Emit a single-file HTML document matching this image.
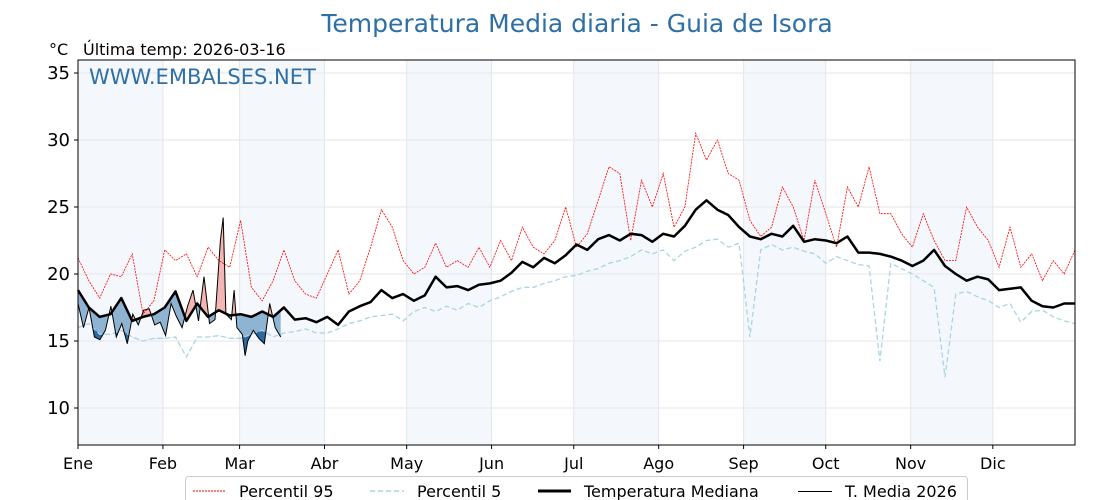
<!DOCTYPE html>
<html><head><meta charset="utf-8">
<style>
body{margin:0;background:#fff;}
svg{display:block;font-family:"DejaVu Sans","Liberation Sans",sans-serif;}
</style></head>
<body>
<svg id="chart" width="1120" height="500" viewBox="0 0 1120 500">
<text x="577" y="32" text-anchor="middle" font-size="25" fill="#2e6fa6">Temperatura Media diaria - Guia de Isora</text>
<text x="49" y="55" font-size="16" fill="#000">°C</text>
<text x="83" y="55" font-size="16" fill="#000">Última temp: 2026-03-16</text>
<g id="bands"></g>
<g id="grid"></g>
<g id="fills"></g>
<g id="lines"></g>
<rect x="78" y="60" width="997" height="385" fill="none" stroke="#000" stroke-width="1"/>
<text x="89" y="84" font-size="21" fill="#2e6fa6">WWW.EMBALSES.NET</text>
<g id="axes"></g>
<g>
<rect x="185.500" y="476.500" width="782" height="30" rx="3" fill="#fff" stroke="#ccc"/>
<line x1="193" y1="491" x2="226" y2="491" stroke="red" stroke-width="1" stroke-dasharray="2,1"/>
<text x="239" y="497" font-size="16">Percentil 95</text>
<line x1="370" y1="491" x2="404" y2="491" stroke="#a8d4e3" stroke-width="1.5" stroke-dasharray="5,3"/>
<text x="417" y="497" font-size="16">Percentil 5</text>
<line x1="538" y1="491" x2="571" y2="491" stroke="#000" stroke-width="3"/>
<text x="584" y="497" font-size="16">Temperatura Mediana</text>
<line x1="798" y1="491.500" x2="832" y2="491.500" stroke="#000" stroke-width="1"/>
<text x="845" y="497" font-size="16">T. Media 2026</text>
</g>
</svg>
<script>
const months=["Ene","Feb","Mar","Abr","May","Jun","Jul","Ago","Sep","Oct","Nov","Dic"];
const monthStart=[0,31,59,90,120,151,181,212,243,273,304,334];
const yTicks=[10,15,20,25,30,35];
const median=[18.8,17.5,16.8,17.0,18.2,16.5,16.8,17.0, 17.5,18.7,16.5,17.8,16.8,17.3,16.9, 17.0,16.8,17.2,16.8,17.5,16.6,16.7,16.4, 16.8,16.2,17.2,17.6,17.9,18.8,18.2,18.5, 18.0,18.4,19.8,19.0,19.1,18.8,19.2, 19.3,19.5,20.1,20.9,20.5,21.2,20.8,21.4, 22.2,21.8,22.6,22.9,22.5,23.0,22.9,22.4, 23.0,22.8,23.6,24.8,25.5,24.8,24.4,23.5, 22.8,22.6,23.0,22.8,23.6,22.4,22.6,22.5, 22.3,22.8,21.6,21.6,21.5,21.3,21.0,20.6, 21.0,21.8,20.6,20.0,19.5,19.8,19.6, 18.8,18.9,19.0,18.0,17.6,17.5,17.8,17.8];
const p95=[21.2,19.5,18.2,20.0,19.8,21.5,17.0,18.0, 21.8,21.0,21.5,19.8,22.0,21.0,20.5, 24.0,19.0,18.0,19.5,21.8,19.5,18.5,18.2, 20.0,21.8,18.5,19.5,22.0,24.8,23.5,21.0, 20.0,20.5,22.3,20.5,21.0,20.5,22.0, 20.5,22.5,21.0,23.5,22.0,21.5,22.5,25.0, 22.0,23.0,25.5,28.0,27.5,22.5,27.0,25.0, 27.5,23.5,25.0,30.5,28.5,30.0,27.5,27.0, 24.0,22.8,23.5,26.5,25.0,22.5,27.0,24.5, 22.0,26.5,25.0,28.0,24.5,24.5,23.0,22.0, 24.5,22.5,21.0,21.0,25.0,23.5,22.5, 20.5,23.5,20.5,21.5,19.5,21.0,20.0,21.8];
const p5=[16.0,16.3,15.5,15.5,15.8,15.3,15.0,15.2, 15.2,15.3,13.8,15.3,15.3,15.4,15.2, 15.2,15.5,15.8,15.3,15.6,15.7,15.9,15.6, 15.6,15.9,16.3,16.5,16.8,16.9,17.0,16.5, 17.2,17.5,17.2,17.6,17.3,17.8,17.5, 18.0,18.3,18.7,19.0,19.0,19.3,19.5,19.8, 19.9,20.2,20.4,20.8,21.0,21.3,21.8,21.5, 21.8,21.0,21.7,22.0,22.5,22.6,22.0,22.3, 15.3,21.8,22.2,21.8,22.0,21.7,21.5,20.8, 21.3,21.0,20.7,20.6,13.5,20.8,20.4,20.0, 19.5,19.0,12.3,18.5,18.7,18.3,18.0, 17.5,17.8,16.4,17.2,17.3,16.8,16.5,16.3];
const days2026=[0,2,4,6,8,10,12,14,16,18,20,22,24,26,28,30,32,34,36,38,40,42,44,46,48,50,52,53,54,56,57,58,60,61,62,64,66,68,70,72,74];
const temp2026=[17.8,16.0,17.5,15.3,15.1,15.8,17.6,15.3,16.3,14.8,17.0,16.2,17.3,17.4,16.2,16.4,15.4,17.8,16.8,16.0,17.6,18.8,16.5,19.8,16.3,16.6,22.5,24.2,17.0,16.6,18.8,16.0,15.5,13.9,15.0,15.8,15.2,14.8,17.8,16.0,15.3];

const NS="http://www.w3.org/2000/svg";
const X0=78,X1=1075,Y0=60,Y1=445;
const xs=d=>X0+Math.min(d,364)*(X1-X0)/364;
const ys=v=>408-(v-10)*13.4;
const n=median.length;
const dayOf=i=>i*364/(n-1);
function mk(tag,attrs,parent){const e=document.createElementNS(NS,tag);for(const k in attrs)e.setAttribute(k,attrs[k]);parent.appendChild(e);return e;}
const bands=document.getElementById('bands'),grid=document.getElementById('grid'),fills=document.getElementById('fills'),lines=document.getElementById('lines'),axes=document.getElementById('axes');
for(let m=0;m<12;m+=2){
  const end=m+1<12?monthStart[m+1]:364;
  const r=mk('rect',{x:xs(monthStart[m]),y:Y0,width:xs(end)-xs(monthStart[m]),height:Y1-Y0,fill:'#f4f8fc'},bands);
  
  
}
yTicks.forEach(t=>{
  const g=mk('line',{x1:X0,x2:X1,y1:ys(t),y2:ys(t),stroke:'#e3e6ea','stroke-width':1},grid);
  
  
  mk('line',{x1:X0-4,x2:X0,y1:ys(t),y2:ys(t),stroke:'#000'},axes);
  const tx=mk('text',{x:X0-8,y:ys(t)+6,'text-anchor':'end','font-size':18},axes);
  tx.textContent=t;
  
  
});
months.forEach((m,i)=>{
  const x=xs(monthStart[i]);
  const g=mk('line',{x1:x,x2:x,y1:Y0,y2:Y1,stroke:'#e3e6ea','stroke-width':1},grid);
  
  
  mk('line',{x1:x,x2:x,y1:Y1,y2:Y1+4,stroke:'#000'},axes);
  const tx=mk('text',{x:x,y:469,'text-anchor':'middle','font-size':16},axes);
  tx.textContent=m;
  
  
});
const pts=arr=>arr.map((v,i)=>xs(dayOf(i)).toFixed(1)+','+ys(v).toFixed(1));
function interp(arr,d){const f=d*(n-1)/364;const i=Math.min(Math.floor(f),n-2);const t=f-i;return arr[i]*(1-t)+arr[i+1]*t;}
const defs=mk('defs',{},document.getElementById('chart'));
const medSeg=[];for(let d=0;d<=76;d+=1)medSeg.push([d,interp(median,d)]);
const p5Seg=[];for(let d=0;d<=76;d+=1)p5Seg.push([d,interp(p5,d)]);
const cur=days2026.map((d,i)=>xs(d).toFixed(1)+','+ys(temp2026[i]).toFixed(1));
const lastD=days2026[days2026.length-1];
const medBack=medSeg.filter(p=>p[0]<=lastD).reverse().map(p=>xs(p[0]).toFixed(1)+','+ys(p[1]).toFixed(1));
const p5Back=p5Seg.filter(p=>p[0]<=lastD).reverse().map(p=>xs(p[0]).toFixed(1)+','+ys(p[1]).toFixed(1));
const medFwd=medSeg.map(p=>xs(p[0]).toFixed(1)+','+ys(p[1]).toFixed(1));
const p5Fwd=p5Seg.map(p=>xs(p[0]).toFixed(1)+','+ys(p[1]).toFixed(1));
const cAbove=mk('clipPath',{id:'above'},defs);mk('polygon',{points:medFwd.join(' ')+' '+xs(76)+','+Y0+' '+X0+','+Y0},cAbove);
const cBelow=mk('clipPath',{id:'below'},defs);mk('polygon',{points:medFwd.join(' ')+' '+xs(76)+','+Y1+' '+X0+','+Y1},cBelow);
const cBelow5=mk('clipPath',{id:'below5'},defs);mk('polygon',{points:p5Fwd.join(' ')+' '+xs(76)+','+Y1+' '+X0+','+Y1},cBelow5);
const fr=mk('polygon',{points:cur.concat(medBack).join(' '),fill:'#f4b6b4',stroke:'#d06060','stroke-width':0.5,'clip-path':'url(#above)'},fills);


const fb=mk('polygon',{points:cur.concat(medBack).join(' '),fill:'#8fb3d3','clip-path':'url(#below)'},fills);


const fd=mk('polygon',{points:cur.concat(p5Back).join(' '),fill:'#2a6aa0','clip-path':'url(#below5)'},fills);


const l95=mk('polyline',{points:pts(p95).join(' '),fill:'none',stroke:'red','stroke-width':0.8,'stroke-dasharray':'2,1'},lines);


const l5=mk('polyline',{points:pts(p5).join(' '),fill:'none',stroke:'#a8d4e3','stroke-width':1.3,'stroke-dasharray':'5,3'},lines);


const lm=mk('polyline',{points:pts(median).join(' '),fill:'none',stroke:'#000','stroke-width':2.5,'stroke-linejoin':'round'},lines);


const l26=mk('polyline',{points:cur.join(' '),fill:'none',stroke:'#000','stroke-width':1},lines);


</script>
</body></html>
